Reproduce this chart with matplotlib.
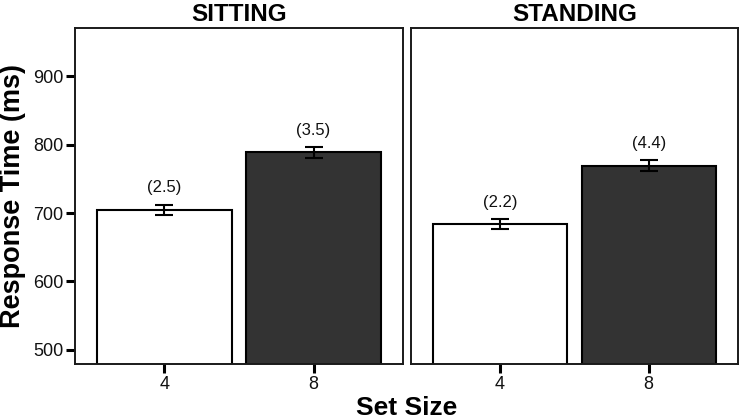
import matplotlib
matplotlib.use("Agg")
import matplotlib.pyplot as plt

plt.rcParams["font.family"] = ["Liberation Sans", "DejaVu Sans"]

# ── Data ──────────────────────────────────────────────────────────
panels = ["SITTING", "STANDING"]
set_sizes = ["4", "8"]
sitting_rt = [705, 789]
sitting_err = [7.5, 8]
sitting_notes = ["(2.5)", "(3.5)"]
standing_rt = [684, 769]
standing_err = [7.5, 8]
standing_notes = ["(2.2)", "(4.4)"]

bar_colors = ["white", "#333333"]

fig = plt.figure(figsize=(7.4, 4.19), dpi=100, facecolor="white")
ax1 = fig.add_axes([0.1014, 0.1313, 0.4432, 0.8019])
ax2 = fig.add_axes([0.5550, 0.1313, 0.4423, 0.8019])

series = [(ax1, sitting_rt, sitting_err, sitting_notes),
          (ax2, standing_rt, standing_err, standing_notes)]

for i, (ax, rt, err, notes) in enumerate(series):
    x = [1, 2]
    ax.bar(x, rt, width=0.9, color=bar_colors, edgecolor="black",
           linewidth=1.5, zorder=2)
    ax.errorbar(x, rt, yerr=err, fmt="none", ecolor="black",
                elinewidth=1.5, capsize=6.5, capthick=1.5, zorder=3)
    for xi, yi, e, note in zip(x, rt, err, notes):
        ax.annotate(note, (xi, yi + e), xytext=(0, 12),
                    textcoords="offset points", ha="center", va="center",
                    fontsize=12, color="#111111")
    ax.set_xlim(0.4, 2.6)
    ax.set_ylim(479, 971)
    ax.set_xticks(x)
    ax.set_xticklabels(set_sizes)
    ax.set_yticks([500, 600, 700, 800, 900])
    ax.set_title(panels[i], fontsize=17.5, fontweight="bold", pad=5)
    for s in ax.spines.values():
        s.set_color("#1a1a1a")
        s.set_linewidth(1.4)
    ax.tick_params(axis="both", length=6.5, width=2.2, color="black",
                   labelsize=13, labelcolor="#111111", pad=2)
    if i == 1:
        ax.tick_params(axis="y", left=False, labelleft=False)

ax1.set_ylabel("Response Time (ms)", fontsize=19.5, fontweight="bold", labelpad=5)
fig.text(0.549, 0.027, "Set Size", ha="center", va="center",
         fontsize=19, fontweight="bold")

fig.savefig("out.png", dpi=100)
